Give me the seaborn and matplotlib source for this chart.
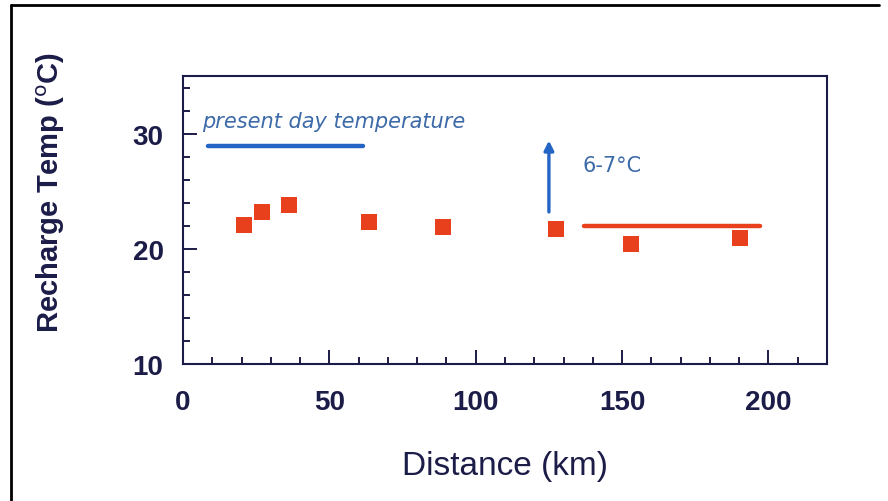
import numpy as np
import pandas as pd
import matplotlib
matplotlib.use("Agg")
import matplotlib.pyplot as plt
from matplotlib.lines import Line2D
from matplotlib.ticker import MultipleLocator
import seaborn as sns

# Data
distance_km = [20.8, 27.0, 36.2, 63.5, 88.7, 127.3, 153.2, 190.4]
recharge_temp = [22.1, 23.2, 23.8, 22.3, 21.9, 21.7, 20.4, 20.9]

present_x = [8.5, 61.4]
present_y = [28.9, 28.9]
modern_x = [137.0, 197.0]
modern_y = [22.0, 22.0]
arrow_x = 125.0
arrow_y = [23.2, 29.4]

df = pd.DataFrame({"Distance": distance_km, "Temp": recharge_temp})

sns.set_style("white")
plt.rcParams['font.family'] = ['Liberation Sans', 'DejaVu Sans']
navy = "#1c1c48"
red = "#e8401c"
blue = "#2464c4"
textblue = "#3d6aa8"

fig = plt.figure(figsize=(8.88, 5.02), dpi=100)
ax = fig.add_axes([183 / 888, 1 - 365 / 502, 644 / 888, 288 / 502])

sns.scatterplot(data=df, x="Distance", y="Temp", marker="s", s=120,
                color=red, edgecolor=red, linewidth=0, ax=ax, zorder=3)

ax.plot(present_x, present_y, color=blue, lw=3.2, solid_capstyle="round")
ax.plot(modern_x, modern_y, color=red, lw=3.2, solid_capstyle="round")
ax.annotate("", xy=(arrow_x, arrow_y[1]), xytext=(arrow_x, arrow_y[0]),
            arrowprops=dict(arrowstyle="-|>", color=blue, lw=2.4,
                            mutation_scale=14, shrinkA=0, shrinkB=0))

ax.text(6.5, 31.1, "present day temperature", color=textblue, fontsize=15,
        style="italic", va="center", ha="left", family="DejaVu Sans")
ax.text(136.5, 27.3, "6-7\u00b0C", color=textblue, fontsize=15,
        va="center", ha="left", family="DejaVu Sans")

ax.set_xlim(0, 220)
ax.set_ylim(10, 35)
ax.xaxis.set_major_locator(MultipleLocator(50))
ax.xaxis.set_minor_locator(MultipleLocator(10))
ax.yaxis.set_major_locator(MultipleLocator(10))
ax.yaxis.set_minor_locator(MultipleLocator(2))
ax.tick_params(which="both", direction="in", color=navy, width=1.4,
               labelcolor=navy, labelsize=20, bottom=True, left=True)
ax.tick_params(which="major", length=10)
ax.tick_params(which="minor", length=5)
ax.tick_params(axis="x", which="major", pad=18)
ax.tick_params(axis="y", which="major", pad=14)
for lab in ax.get_xticklabels() + ax.get_yticklabels():
    lab.set_fontweight("bold")

for sp in ax.spines.values():
    sp.set_color(navy)
    sp.set_linewidth(1.5)

ax.set_xlabel("Distance (km)", fontsize=24, color=navy)
ax.xaxis.set_label_coords(0.5, -0.30)
ax.set_ylabel(r"Recharge Temp ($^{\rm o}$C)", fontsize=21, color=navy,
              fontweight="bold")
ax.yaxis.set_label_coords(-0.18, 0.60)

# outer frame (left and top edges only)
fig.add_artist(Line2D([11 / 888, 11 / 888], [0, 1 - 6 / 502],
                      transform=fig.transFigure, color="black", lw=2))
fig.add_artist(Line2D([11 / 888, 879 / 888], [1 - 6 / 502, 1 - 6 / 502],
                      transform=fig.transFigure, color="black", lw=2))

fig.savefig("out.png", dpi=100)
